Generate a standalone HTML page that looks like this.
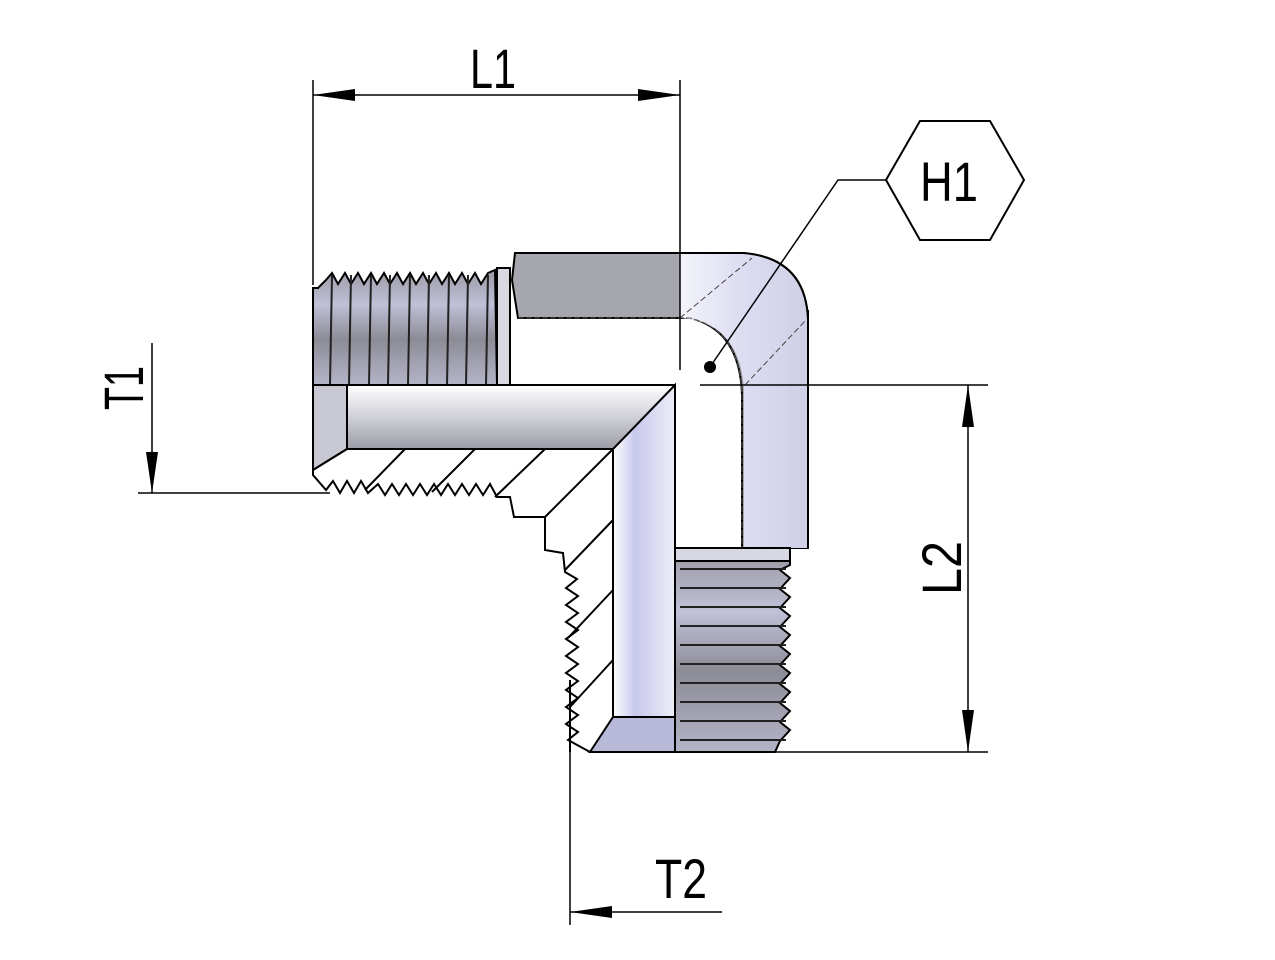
<!DOCTYPE html>
<html><head><meta charset="utf-8"><style>html,body{margin:0;padding:0;background:#fff}svg{display:block}</style></head>
<body>
<svg width="1275" height="960" viewBox="0 0 1275 960" xmlns="http://www.w3.org/2000/svg">
<defs>
<linearGradient id="gv" x1="0" y1="0" x2="1" y2="0">
<stop offset="0" stop-color="#9a9aa8"/><stop offset="0.3" stop-color="#c8c8e6"/><stop offset="0.6" stop-color="#b0b0c4"/><stop offset="1" stop-color="#8e8e98"/></linearGradient>
<linearGradient id="gb" x1="0" y1="0" x2="0" y2="1">
<stop offset="0" stop-color="#ffffff"/><stop offset="0.5" stop-color="#d0d0d8"/><stop offset="1" stop-color="#9c9ca6"/></linearGradient>
<linearGradient id="gvb" x1="0" y1="0" x2="1" y2="0">
<stop offset="0" stop-color="#ffffff"/><stop offset="0.35" stop-color="#c8c8ee"/><stop offset="1" stop-color="#ededf6"/></linearGradient>
<linearGradient id="gr" x1="0" y1="0" x2="1" y2="0">
<stop offset="0" stop-color="#f4f4fa"/><stop offset="0.5" stop-color="#dcdcf2"/><stop offset="1" stop-color="#cfcfe6"/></linearGradient>
<linearGradient id="gh" x1="0" y1="0" x2="0" y2="1">
<stop offset="0" stop-color="#9a9aa4"/><stop offset="0.3" stop-color="#c0c0d8"/><stop offset="0.6" stop-color="#8c8c96"/><stop offset="1" stop-color="#b4b4c8"/></linearGradient>
</defs>
<g stroke="#000" stroke-width="2" fill="none">
<!-- top body -->
<path d="M515,253 L743,253 Q806,258 808,320 L808,310 L808,548 L742,548 L742,395 Q740,330 690,318 L518,318 L512,280 Z" fill="#a6a6ae"/>
<path d="M680,318 Q740,322 744,390 L744,548 L808,548 L808,320 Q805,258 743,253 L680,253 Z" fill="url(#gr)" stroke="none"/>
<path d="M515,253 L743,253 Q806,258 808,320 L808,548" />
<path d="M518,318 L690,318 Q740,330 742,395 L742,548" stroke="#555" stroke-width="1" stroke-dasharray="6,2"/>
<path d="M680,318 L752,258 M745,385 L806,320" stroke="#444" stroke-width="1" stroke-dasharray="6,3"/>
<!-- left thread -->
<path d="M318,288 L326,280 L332,273 L338,284 L345,273 L351,284 L358,273 L364,284 L371,273 L377,284 L384,273 L390,284 L397,273 L403,284 L410,273 L416,284 L423,273 L429,284 L436,273 L442,284 L449,273 L455,284 L462,273 L468,284 L475,273 L481,284 L488,273 L495,270 L497,385 L313,385 L313,288 Z" fill="url(#gh)"/>
<g stroke="#222" stroke-width="2">
<path d="M332,275 L330,385 M351,275 L349,385 M371,275 L369,385 M390,275 L388,385 M410,275 L408,385 M429,275 L427,385 M449,275 L447,385 M468,275 L466,385 M488,275 L486,385"/>
</g>
<rect x="497" y="268" width="13" height="117" fill="#d8d8e0"/>
<!-- horizontal bore -->
<rect x="313" y="385" width="362" height="64" fill="url(#gb)"/>
<path d="M313,385 L347,385 L347,449 L313,470 Z" fill="#c8c8d2"/>
<!-- diagonal / vertical bore -->
<path d="M675,385 L613,449 L613,717 L675,717 Z" fill="url(#gvb)"/>
<path d="M613,717 L675,717 L675,752 L590,752 Z" fill="#b8b8d8"/>
<!-- section profile -->
<path d="M313,470 L313,475 L326,490 L333,481 L340,493 L347,481 L354,493 L361,481 L368,493 L378,484 L385,495 L392,484 L399,495 L406,484 L413,495 L420,484 L427,495 L434,484 L441,495 L448,484 L455,495 L462,484 L469,495 L476,484 L483,495 L490,484 L497,497 L510,497 L514,517 L545,517 L545,550 L563,553 L565,572 L577,579 L566,588 L578,596 L566,605 L578,613 L566,622 L578,630 L566,639 L578,647 L566,656 L578,664 L566,673 L578,681 L566,690 L578,698 L566,707 L578,715 L566,724 L578,732 L568,740 L590,752"/>
<path d="M347,449 L313,470 M405,449 L365,490 M475,449 L432,492 M545,449 L495,497 M613,449 L545,517 M613,520 L565,570 M613,590 L568,638 M613,660 L570,707"/>
<path d="M570,680 L570,752"/>
<!-- lower male thread -->
<path d="M675,552 L790,552 L790,565 L780,570 L790,578 L780,589 L790,597 L780,608 L790,616 L780,627 L790,635 L780,646 L790,654 L780,665 L790,673 L780,684 L790,692 L780,703 L790,711 L780,722 L790,730 L780,741 L775,752 L675,752 Z" fill="url(#gh)"/>
<g stroke="#222" stroke-width="2"><path d="M680,569 L786,569 M680,588 L786,588 M680,607 L786,607 M680,626 L786,626 M680,645 L786,645 M680,664 L786,664 M680,683 L786,683 M680,702 L786,702 M680,721 L786,721 M680,740 L786,740"/></g>
<rect x="675" y="548" width="115" height="13" fill="#d8d8e4"/>
</g>
<!-- dimensions -->
<g stroke="#000" stroke-width="1.5" fill="none">
<path d="M313,80 L313,285 M680,80 L680,370 M313,95 L680,95"/>
<path d="M700,385 L988,385 M775,752 L988,752 M968,385 L968,752"/>
<path d="M138,493 L330,493 M152,343 L152,493"/>
<path d="M570,752 L570,925 M570,912 L722,912"/>
<path d="M710,367 L838,180 L886,180"/>
<path d="M886,180 L920,121 L990,121 L1024,180 L990,240 L920,240 Z" stroke-width="2"/>
</g>
<g fill="#000">
<path d="M313,95 L355,89 L355,101 Z"/><path d="M680,95 L638,89 L638,101 Z"/>
<path d="M968,385 L962,427 L974,427 Z"/><path d="M968,752 L962,710 L974,710 Z"/>
<path d="M152,493 L146,452 L158,452 Z"/>
<path d="M570,912 L612,906 L612,918 Z"/>
<circle cx="710" cy="367" r="6"/>
</g>
<g font-family="Liberation Sans, sans-serif" font-size="56" fill="#000">
<text x="470" y="88" textLength="46" lengthAdjust="spacingAndGlyphs">L1</text>
<text x="920" y="201" textLength="58" lengthAdjust="spacingAndGlyphs">H1</text>
<text x="655" y="898" textLength="52" lengthAdjust="spacingAndGlyphs">T2</text>
<text transform="translate(143,410) rotate(-90)" textLength="44" lengthAdjust="spacingAndGlyphs">T1</text>
<text transform="translate(961,595) rotate(-90)" textLength="54" lengthAdjust="spacingAndGlyphs">L2</text>
</g>
</svg>
</body></html>
